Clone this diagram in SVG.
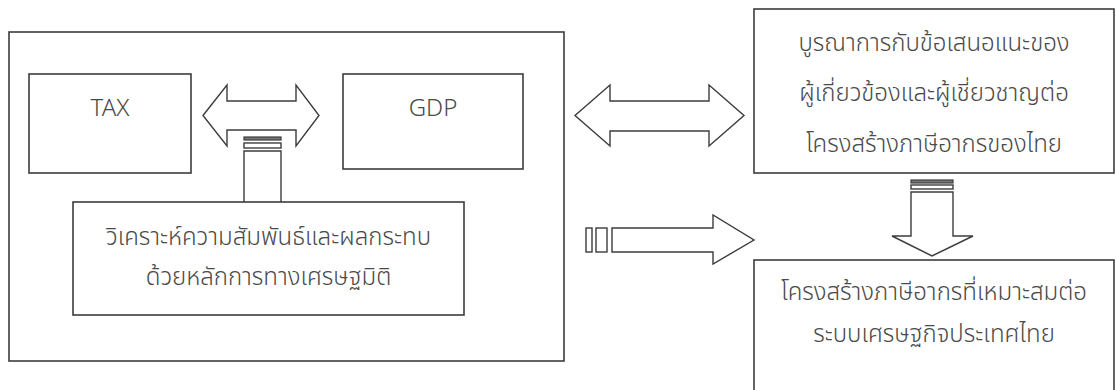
<svg xmlns="http://www.w3.org/2000/svg" width="1116" height="390" viewBox="0 0 1116 390">
<style>
.box{fill:#fff;stroke:#3c3c3c;stroke-width:1.6}
.conn{fill:#fff;stroke:#3c3c3c;stroke-width:1.4;stroke-linejoin:miter}
.dark{fill:#777;stroke:#3c3c3c;stroke-width:1.2}
.t{font-family:"Noto Sans","Noto Sans Thai","Liberation Sans",sans-serif;font-size:24px;font-weight:300;fill:#4a4a4a;text-anchor:middle}
</style>
<rect width="1116" height="390" fill="#fff"/>
<g id="container">
<rect class="box" x="9" y="32" width="555" height="329"/>
</g>
<g id="connectors">
<polygon class="conn" points="203,115.5 227,85 227,101 296,101 296,85 319,115.5 296,146 296,130 227,130 227,146"/>
<rect class="dark" x="244" y="137" width="37" height="3"/>
<rect class="conn" x="244" y="143" width="37" height="5"/>
<polyline class="conn" points="244,202 244,151 281,151 281,202"/>
<polygon class="conn" points="575,115.5 610,85 610,101 709,101 709,85 744,115.5 709,146 709,131 610,131 610,146"/>
<rect class="conn" x="586" y="228" width="6" height="24"/>
<rect class="conn" x="596" y="228" width="11" height="24"/>
<polygon class="conn" points="612,228 713,228 713,215 754,240 713,264 713,252 612,252"/>
<rect class="dark" x="911" y="180" width="42" height="3"/>
<rect class="conn" x="911" y="185" width="42" height="4"/>
<polygon class="conn" points="911,192 953,192 953,236 973,236 932,256 892,236 911,236"/>
</g>
<g id="tax">
<rect class="box" x="29" y="74" width="162" height="99"/>
<text class="t" x="110" y="116">TAX</text>
</g>
<g id="gdp">
<rect class="box" x="343" y="74" width="180" height="95"/>
<text class="t" x="433" y="116">GDP</text>
</g>
<g id="analysis">
<rect class="box" x="73" y="202" width="391" height="113"/>
<text class="t" x="268.5" y="245">วิเคราะห์ความสัมพันธ์และผลกระทบ</text>
<text class="t" x="268.5" y="285">ด้วยหลักการทางเศรษฐมิติ</text>
</g>
<g id="integration">
<rect class="box" x="754" y="9" width="360" height="164"/>
<text class="t" x="934" y="51">บูรณาการกับข้อเสนอแนะของ</text>
<text class="t" x="934" y="101">ผู้เกี่ยวข้องและผู้เชี่ยวชาญต่อ</text>
<text class="t" x="934" y="152">โครงสร้างภาษีอากรของไทย</text>
</g>
<g id="result">
<rect class="box" x="754" y="260" width="360" height="140"/>
<text class="t" x="934" y="300">โครงสร้างภาษีอากรที่เหมาะสมต่อ</text>
<text class="t" x="934" y="342">ระบบเศรษฐกิจประเทศไทย</text>
</g>
</svg>
